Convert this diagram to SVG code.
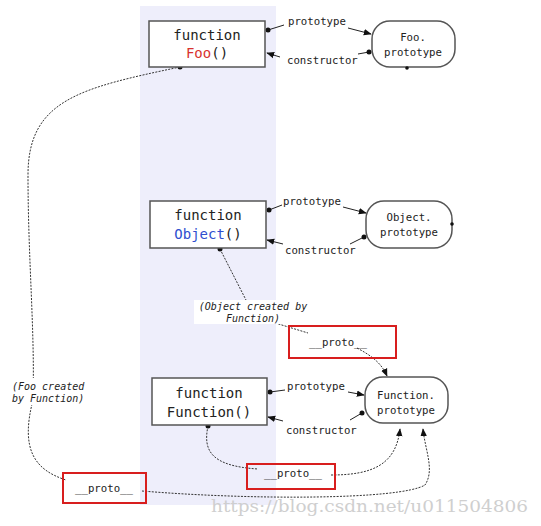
<svg xmlns="http://www.w3.org/2000/svg" width="541" height="526" viewBox="0 0 541 526">
<style>
.box{fill:#fff;stroke:#555;stroke-width:1.5}
.mono{font-family:"DejaVu Sans Mono","Liberation Mono",monospace;fill:#222}
.big{font-size:14px}
.lbl{font-size:10.7px}
.it{font-size:10px;font-style:italic}
.ln{fill:none;stroke:#222;stroke-width:1}
.dash{fill:none;stroke:#333;stroke-width:1;stroke-dasharray:2 1.3}
.red{fill:none;stroke:#d81e1e;stroke-width:2}
.dot{fill:#111}
</style>
<defs>
<marker id="ah" viewBox="0 0 10 10" refX="9" refY="5" markerWidth="8" markerHeight="8" orient="auto" markerUnits="userSpaceOnUse">
<path d="M0,1 L10,5 L0,9 z" fill="#111"/>
</marker>
</defs>
<rect x="140" y="6" width="136" height="499" fill="#eeeefb"/>
<g id="connectors">
<path class="dash" d="M180,67 C80,88 28,100 28,175 C28,260 35,330 33,400 C20,450 35,470 66,480"/>
<path class="dash" d="M142,491 C250,500 400,500 425,485 C435,470 425,450 423,429" marker-end="url(#ah)"/>
<path class="dash" d="M220,249 L246,300"/>
<path class="dash" d="M272,322 L308,333"/>
<path class="dash" d="M357,348 C370,355 381,362 387,376" marker-end="url(#ah)"/>
<path class="dash" d="M208,426 C203,450 210,466 258,469"/>
<path class="dash" d="M331,475 C372,475 396,465 400,429" marker-end="url(#ah)"/>
<path class="ln" d="M268,30 L284,25"/>
<path class="ln" d="M348,28 L371,34" marker-end="url(#ah)"/>
<path class="ln" d="M369,52 L358,54"/>
<path class="ln" d="M280,57 L267,53" marker-end="url(#ah)"/>
<path class="ln" d="M269,210 L282,205"/>
<path class="ln" d="M343,207 L366,213" marker-end="url(#ah)"/>
<path class="ln" d="M364,237 L350,244"/>
<path class="ln" d="M283,244 L267,240" marker-end="url(#ah)"/>
<path class="ln" d="M270,392 L285,390"/>
<path class="ln" d="M348,392 L364,395" marker-end="url(#ah)"/>
<path class="ln" d="M362,413 L350,420"/>
<path class="ln" d="M283,421 L268,417" marker-end="url(#ah)"/>
<circle class="dot" cx="180" cy="67" r="2.5"/>
<circle class="dot" cx="220" cy="249" r="2.5"/>
<circle class="dot" cx="208" cy="426" r="2.5"/>
<circle class="dot" cx="268" cy="30" r="2.5"/>
<circle class="dot" cx="369" cy="52" r="2.5"/>
<circle class="dot" cx="269" cy="210" r="2.5"/>
<circle class="dot" cx="364" cy="237" r="2.5"/>
<circle class="dot" cx="270" cy="392" r="2.5"/>
<circle class="dot" cx="362" cy="413" r="2.5"/>
<text class="mono lbl" x="288" y="25">prototype</text>
<text class="mono lbl" x="287" y="64">constructor</text>
<text class="mono lbl" x="283" y="205">prototype</text>
<text class="mono lbl" x="285" y="254">constructor</text>
<text class="mono lbl" x="287" y="390">prototype</text>
<text class="mono lbl" x="286" y="434">constructor</text>
</g>
<g id="foo">
<rect class="box" x="149" y="21" width="116" height="46"/>
<text class="mono big" x="207" y="40" text-anchor="middle">function</text>
<text class="mono big" x="207" y="58" text-anchor="middle"><tspan fill="#d8322e">Foo</tspan>()</text>
</g>
<g id="foo-prototype">
<rect class="box" x="372" y="21" width="83" height="46" rx="18"/>
<circle class="dot" cx="407" cy="68" r="1.8"/>
<text class="mono lbl" x="413" y="41" text-anchor="middle">Foo.</text>
<text class="mono lbl" x="413" y="56" text-anchor="middle">prototype</text>
</g>
<g id="object">
<rect class="box" x="150" y="201" width="116" height="47"/>
<text class="mono big" x="208" y="220" text-anchor="middle">function</text>
<text class="mono big" x="208" y="239" text-anchor="middle"><tspan fill="#2f4fcf">Object</tspan>()</text>
</g>
<g id="object-prototype">
<rect class="box" x="366" y="201" width="86" height="47" rx="18"/>
<circle class="dot" cx="452" cy="224" r="1.8"/>
<text class="mono lbl" x="409" y="221" text-anchor="middle">Object.</text>
<text class="mono lbl" x="409" y="236" text-anchor="middle">prototype</text>
</g>
<g id="function">
<rect class="box" x="152" y="378" width="115" height="47"/>
<text class="mono big" x="209" y="398" text-anchor="middle">function</text>
<text class="mono big" x="209" y="417" text-anchor="middle">Function()</text>
</g>
<g id="function-prototype">
<rect class="box" x="365" y="377" width="83" height="46" rx="18"/>
<text class="mono lbl" x="406" y="399" text-anchor="middle">Function.</text>
<text class="mono lbl" x="406" y="414" text-anchor="middle">prototype</text>
</g>
<g id="foo-created">
<rect x="10" y="378" width="78" height="27" fill="#fff"/>
<text class="mono it" x="12" y="390">(Foo created</text>
<text class="mono it" x="12" y="402">by Function)</text>
</g>
<g id="object-created">
<rect x="194" y="300" width="126" height="24" fill="#fff"/>
<text class="mono it" x="253" y="310" text-anchor="middle">(Object created by</text>
<text class="mono it" x="253" y="322" text-anchor="middle">Function)</text>
</g>
<g id="proto-top">
<rect class="red" x="289" y="326" width="107" height="32"/>
<text class="mono lbl" x="338" y="346" text-anchor="middle" font-size="11.2">__proto__</text>
</g>
<g id="proto-mid">
<rect class="red" x="247" y="464" width="88" height="25"/>
<text class="mono lbl" x="293" y="477" text-anchor="middle" font-size="11.2">__proto__</text>
</g>
<g id="proto-left">
<rect class="red" x="63" y="473" width="83" height="30"/>
<text class="mono lbl" x="104" y="492" text-anchor="middle" font-size="11.2">__proto__</text>
</g>
<text x="211" y="512" font-family="DejaVu Serif, serif" font-size="17" fill="#cfcfcf" textLength="317" lengthAdjust="spacingAndGlyphs">https://blog.csdn.net/u011504806</text>
</svg>
